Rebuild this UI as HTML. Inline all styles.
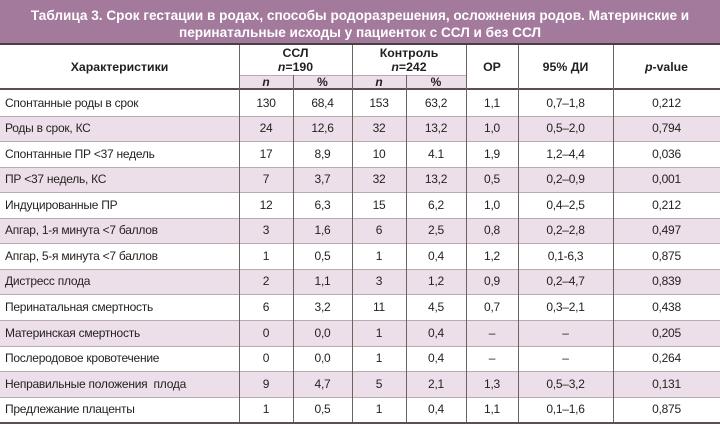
<!DOCTYPE html>
<html><head><meta charset="utf-8">
<style>
*{margin:0;padding:0;box-sizing:border-box}
body{width:720px;height:429px;background:#fff;position:relative;overflow:hidden;font-family:"Liberation Sans","DejaVu Sans",sans-serif;color:#231f20}
.title{position:absolute;left:0;top:0;width:720px;height:43px;background:#a37a9c;color:#fff;font-weight:bold;font-size:13.6px;text-align:center;line-height:17px;padding-top:7px}
.tline{position:absolute;left:0;top:43px;width:720px;height:2px;background:#4a3f45}
.hl{position:absolute;left:0;width:720px;height:1px;background:#b7adb0}
.vl{position:absolute;width:1.5px;background:#6e645f}
.row{position:absolute;left:0;width:720px;font-size:12px;letter-spacing:-0.25px}
.pink{background:#ecdfe9}
.c{position:absolute;top:0;text-align:center;white-space:nowrap}
.c0{left:5px;text-align:left}
.c1{left:239px;width:54px}.c2{left:293px;width:59px}.c3{left:352px;width:54px}.c4{left:406px;width:60px}
.c5{left:466px;width:52px}.c6{left:518px;width:95px}.c7{left:613px;width:107px}
.h{position:absolute;font-weight:bold;font-size:12.3px;text-align:center;white-space:nowrap}
</style></head><body>
<div class="title">Таблица 3. Срок гестации в родах, способы родоразрешения, осложнения родов. Материнские и<br>перинатальные исходы у пациенток с ССЛ и без ССЛ</div>
<div class="tline"></div>

<!-- header -->
<div style="position:absolute;left:239px;top:75px;width:227px;height:14px;background:#ecdfe9"></div>
<div style="position:absolute;left:239px;top:75px;width:227px;height:1px;background:#b7adb0"></div>
<div class="h" style="left:0;width:239px;top:60px">Характеристики</div>
<div class="h" style="left:239px;width:113px;top:46px;line-height:14px">ССЛ<br><i>n</i>=190</div>
<div class="h" style="left:352px;width:114px;top:46px;line-height:14px">Контроль<br><i>n</i>=242</div>
<div class="h" style="left:239px;width:54px;top:75px;line-height:14px;font-size:12px"><i>n</i></div>
<div class="h" style="left:293px;width:59px;top:75px;line-height:14px;font-size:12px">%</div>
<div class="h" style="left:352px;width:54px;top:75px;line-height:14px;font-size:12px"><i>n</i></div>
<div class="h" style="left:406px;width:60px;top:75px;line-height:14px;font-size:12px">%</div>
<div class="h" style="left:466px;width:52px;top:60px">ОР</div>
<div class="h" style="left:518px;width:95px;top:60px">95% ДИ</div>
<div class="h" style="left:613px;width:107px;top:60px"><i>p</i>-value</div>
<div style="position:absolute;left:0;top:88px;width:720px;height:2px;background:#5a5050"></div>

<!-- rows -->
<div class="row" style="top:90px;height:26px;line-height:26px"><span class="c c0">Спонтанные роды в срок</span><span class="c c1">130</span><span class="c c2">68,4</span><span class="c c3">153</span><span class="c c4">63,2</span><span class="c c5">1,1</span><span class="c c6">0,7–1,8</span><span class="c c7">0,212</span></div>
<div class="row pink" style="top:116px;height:25px;line-height:25px"><span class="c c0">Роды в срок, КС</span><span class="c c1">24</span><span class="c c2">12,6</span><span class="c c3">32</span><span class="c c4">13,2</span><span class="c c5">1,0</span><span class="c c6">0,5–2,0</span><span class="c c7">0,794</span></div>
<div class="row" style="top:141px;height:26px;line-height:26px"><span class="c c0">Спонтанные ПР &lt;37 недель</span><span class="c c1">17</span><span class="c c2">8,9</span><span class="c c3">10</span><span class="c c4">4.1</span><span class="c c5">1,9</span><span class="c c6">1,2–4,4</span><span class="c c7">0,036</span></div>
<div class="row pink" style="top:167px;height:25px;line-height:25px"><span class="c c0">ПР &lt;37 недель, КС</span><span class="c c1">7</span><span class="c c2">3,7</span><span class="c c3">32</span><span class="c c4">13,2</span><span class="c c5">0,5</span><span class="c c6">0,2–0,9</span><span class="c c7">0,001</span></div>
<div class="row" style="top:192px;height:26px;line-height:26px"><span class="c c0">Индуцированные ПР</span><span class="c c1">12</span><span class="c c2">6,3</span><span class="c c3">15</span><span class="c c4">6,2</span><span class="c c5">1,0</span><span class="c c6">0,4–2,5</span><span class="c c7">0,212</span></div>
<div class="row pink" style="top:218px;height:25px;line-height:25px"><span class="c c0">Апгар, 1-я минута &lt;7 баллов</span><span class="c c1">3</span><span class="c c2">1,6</span><span class="c c3">6</span><span class="c c4">2,5</span><span class="c c5">0,8</span><span class="c c6">0,2–2,8</span><span class="c c7">0,497</span></div>
<div class="row" style="top:243px;height:26px;line-height:26px"><span class="c c0">Апгар, 5-я минута &lt;7 баллов</span><span class="c c1">1</span><span class="c c2">0,5</span><span class="c c3">1</span><span class="c c4">0,4</span><span class="c c5">1,2</span><span class="c c6">0,1-6,3</span><span class="c c7">0,875</span></div>
<div class="row pink" style="top:269px;height:25px;line-height:25px"><span class="c c0">Дистресс плода</span><span class="c c1">2</span><span class="c c2">1,1</span><span class="c c3">3</span><span class="c c4">1,2</span><span class="c c5">0,9</span><span class="c c6">0,2–4,7</span><span class="c c7">0,839</span></div>
<div class="row" style="top:294px;height:26px;line-height:26px"><span class="c c0">Перинатальная смертность</span><span class="c c1">6</span><span class="c c2">3,2</span><span class="c c3">11</span><span class="c c4">4,5</span><span class="c c5">0,7</span><span class="c c6">0,3–2,1</span><span class="c c7">0,438</span></div>
<div class="row pink" style="top:320px;height:26px;line-height:26px"><span class="c c0">Материнская смертность</span><span class="c c1">0</span><span class="c c2">0,0</span><span class="c c3">1</span><span class="c c4">0,4</span><span class="c c5">–</span><span class="c c6">–</span><span class="c c7">0,205</span></div>
<div class="row" style="top:346px;height:25px;line-height:25px"><span class="c c0">Послеродовое кровотечение</span><span class="c c1">0</span><span class="c c2">0,0</span><span class="c c3">1</span><span class="c c4">0,4</span><span class="c c5">–</span><span class="c c6">–</span><span class="c c7">0,264</span></div>
<div class="row pink" style="top:371px;height:26px;line-height:26px"><span class="c c0">Неправильные положения&nbsp; плода</span><span class="c c1">9</span><span class="c c2">4,7</span><span class="c c3">5</span><span class="c c4">2,1</span><span class="c c5">1,3</span><span class="c c6">0,5–3,2</span><span class="c c7">0,131</span></div>
<div class="row" style="top:397px;height:25px;line-height:25px"><span class="c c0">Предлежание плаценты</span><span class="c c1">1</span><span class="c c2">0,5</span><span class="c c3">1</span><span class="c c4">0,4</span><span class="c c5">1,1</span><span class="c c6">0,1–1,6</span><span class="c c7">0,875</span></div>

<!-- horizontal row lines -->
<div class="hl" style="top:116px"></div>
<div class="hl" style="top:141px"></div>
<div class="hl" style="top:167px"></div>
<div class="hl" style="top:192px"></div>
<div class="hl" style="top:218px"></div>
<div class="hl" style="top:243px"></div>
<div class="hl" style="top:269px"></div>
<div class="hl" style="top:294px"></div>
<div class="hl" style="top:320px"></div>
<div class="hl" style="top:346px"></div>
<div class="hl" style="top:371px"></div>
<div class="hl" style="top:397px"></div>
<div style="position:absolute;left:0;top:422px;width:720px;height:2px;background:#5a5050"></div>

<!-- vertical lines -->
<div class="vl" style="left:238.5px;top:45px;height:377px"></div>
<div class="vl" style="left:292.5px;top:75px;height:347px"></div>
<div class="vl" style="left:351.5px;top:45px;height:377px"></div>
<div class="vl" style="left:405.5px;top:75px;height:347px"></div>
<div class="vl" style="left:465.5px;top:45px;height:377px"></div>
<div class="vl" style="left:517.5px;top:45px;height:377px"></div>
<div class="vl" style="left:612.5px;top:45px;height:377px"></div>
</body></html>
